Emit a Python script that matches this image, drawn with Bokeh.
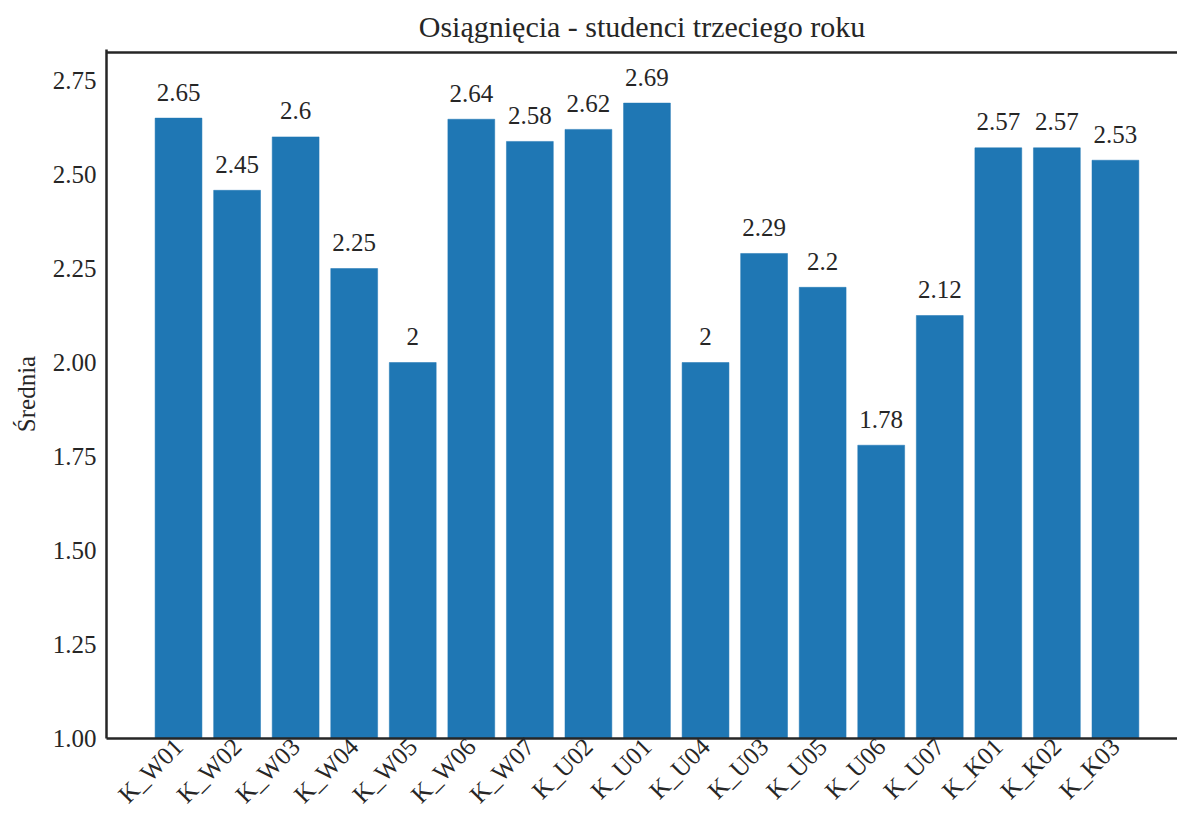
import math
from bokeh.plotting import figure
from bokeh.models import Range1d, FixedTicker, NumeralTickFormatter, ColumnDataSource, Span
from bokeh.core.properties import value
from bokeh.embed import file_html
from bokeh.resources import INLINE

categories = ["K_W01", "K_W02", "K_W03", "K_W04", "K_W05", "K_W06", "K_W07", "K_U02", "K_U01",
              "K_U04", "K_U03", "K_U05", "K_U06", "K_U07", "K_K01", "K_K02", "K_K03"]
values = [2.65, 2.458, 2.60, 2.25, 2.00, 2.647, 2.588, 2.62, 2.69,
          2.00, 2.29, 2.20, 1.78, 2.125, 2.571, 2.571, 2.538]
labels = ["2.65", "2.45", "2.6", "2.25", "2", "2.64", "2.58", "2.62", "2.69",
          "2", "2.29", "2.2", "1.78", "2.12", "2.57", "2.57", "2.53"]
y_ticks = [1.00, 1.25, 1.50, 1.75, 2.00, 2.25, 2.50, 2.75]

FONT = "Liberation Serif"
TXT = "#262626"

x = list(range(len(categories)))
src = ColumnDataSource(dict(x=x, top=values, lab=labels))

ymax = max(values) * 1.05
p = figure(width=1177, height=820, output_backend="svg", toolbar_location=None,
           x_range=Range1d(-1.23, 17.06), y_range=Range1d(1.0, ymax + 0.008),
           min_border_left=106, min_border_top=49, min_border_bottom=78, min_border_right=0)
p.outline_line_color = None
p.grid.visible = False
p.background_fill_color = "white"

p.vbar(x="x", top="top", bottom=1.0, width=0.8, source=src,
       fill_color="#1f77b4", line_color="#1f77b4", line_width=0.5)
p.text(x="x", y="top", text="lab", source=src, text_align="center",
       text_baseline="alphabetic", y_offset=-26, text_font=value(FONT),
       text_font_style="normal", text_font_size="25px", text_color=TXT)

top_line = Span(location=ymax, dimension="width", line_color=TXT, line_width=2.5)
p.add_layout(top_line)

p.title.text = "Osiągnięcia - studenci trzeciego roku"
p.title.align = "center"
p.title.vertical_align = "top"
p.title.text_font = FONT
p.title.text_font_size = "30px"
p.title.text_font_style = "normal"
p.title.text_color = TXT

for ax in (p.xaxis[0], p.yaxis[0]):
    ax.axis_line_color = TXT
    ax.axis_line_width = 2.5
    ax.major_tick_line_color = None
    ax.minor_tick_line_color = None
    ax.major_tick_out = 0
    ax.major_tick_in = 0
    ax.minor_tick_out = 0
    ax.minor_tick_in = 0
    ax.major_label_text_font = FONT
    ax.major_label_text_font_size = "25px"
    ax.major_label_text_font_style = "normal"
    ax.major_label_text_color = TXT

p.xaxis.ticker = FixedTicker(ticks=x)
p.xaxis.major_label_overrides = {i: c for i, c in enumerate(categories)}
p.xaxis.major_label_orientation = math.pi / 4
p.xaxis.major_label_standoff = 4

p.yaxis.ticker = FixedTicker(ticks=y_ticks)
p.yaxis.formatter = NumeralTickFormatter(format="0.00")
p.yaxis.major_label_standoff = 10
p.yaxis.axis_label = "Średnia"
p.yaxis.axis_label_text_font = FONT
p.yaxis.axis_label_text_font_size = "25px"
p.yaxis.axis_label_text_font_style = "normal"
p.yaxis.axis_label_text_color = TXT
p.yaxis.axis_label_standoff = 10

open("out.html", "w").write(file_html(p, INLINE))
